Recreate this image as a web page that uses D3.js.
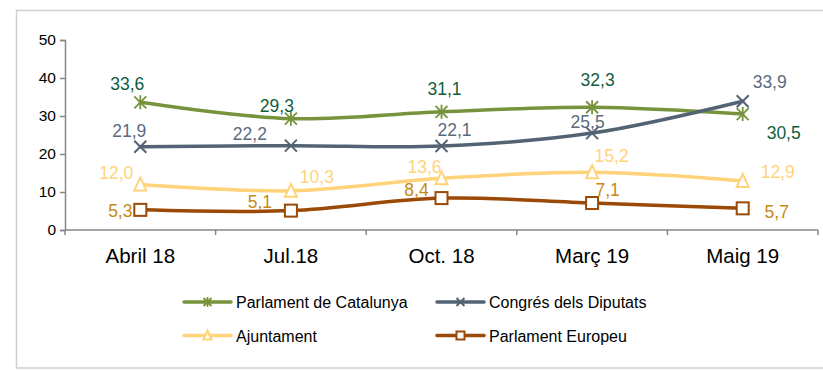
<!DOCTYPE html>
<html>
<head>
<meta charset="utf-8">
<script src="https://cdn.jsdelivr.net/npm/d3@7/dist/d3.min.js"></script>
<style>
  html, body { margin: 0; padding: 0; background: #fff; }
  svg { display: block; font-family: "Liberation Sans", Arial, sans-serif; }
</style>
</head>
<body>
<svg id="chart" width="823" height="370"></svg>
<script>
// Survey periods
const categories = ["Abril 18", "Jul.18", "Oct. 18", "Març 19", "Maig 19"];

// Series values (%)
const parlamentCatalunya = [33.6, 29.3, 31.1, 32.3, 30.5];
const congresDiputats    = [21.9, 22.2, 22.1, 25.5, 33.9];
const ajuntament         = [12.0, 10.3, 13.6, 15.2, 12.9];
const parlamentEuropeu   = [5.3, 5.1, 8.4, 7.1, 5.7];

const seriesNames = ["Parlament de Catalunya", "Congrés dels Diputats", "Ajuntament", "Parlament Europeu"];

const yTicks = [0, 10, 20, 30, 40, 50];

// Styling per series
const styles = [
  { line: "#77933c", label: "#0f5e3c", marker: "asterisk" },
  { line: "#536374", label: "#5a6b7e", marker: "cross" },
  { line: "#ffd37a", label: "#ffd37a", marker: "triangle" },
  { line: "#9a4a06", label: "#c48a12", marker: "square" }
];

// Label placement relative to each point: [dx, dy] of text centre / baseline
const labelOffsets = [
  [[-13, -12], [-14, -7], [3, -17], [5.5, -21.6], [41, 25]],
  [[-11, -10], [-41, -5.6], [13, -10], [-4.5, -5], [27, -13]],
  [[-24, -5], [26, -8], [-17, -5], [19.5, -10.5], [35, -3]],
  [[-20, 7], [-31, -3], [-25, -2], [15.5, -7], [34, 10]]
];

const seriesValues = [parlamentCatalunya, congresDiputats, ajuntament, parlamentEuropeu];

const svg = d3.select("#chart");

// Outer frame
svg.append("rect")
  .attr("x", 16.5).attr("y", 10.5)
  .attr("width", 830).attr("height", 357.5)
  .attr("fill", "none").attr("stroke", "#d0d0d0").attr("stroke-width", 1.5);

const plot = { left: 65, right: 818, top: 40, bottom: 230 };

const x = d3.scaleBand().domain(categories).range([plot.left, plot.right]).padding(0);
const y = d3.scaleLinear().domain([0, 50]).range([plot.bottom, plot.top]);

const axisColor = "#868686";

// Y axis
const yAxis = svg.append("g")
  .attr("transform", `translate(${plot.left},0)`)
  .call(d3.axisLeft(y).tickValues(yTicks).tickSize(5).tickPadding(4).tickFormat(d3.format("d")));
yAxis.select(".domain").attr("stroke", axisColor).attr("stroke-width", 1.5);
yAxis.selectAll(".tick line").attr("stroke", axisColor).attr("stroke-width", 1.5);
yAxis.selectAll(".tick text")
  .attr("fill", "#000").attr("font-size", "15.5px")
  .attr("font-family", "Liberation Sans, Arial, sans-serif");

// X axis: line with boundary ticks between categories
const xAxisG = svg.append("g");
xAxisG.append("line")
  .attr("x1", plot.left).attr("x2", plot.right)
  .attr("y1", plot.bottom).attr("y2", plot.bottom)
  .attr("stroke", axisColor).attr("stroke-width", 1.5);
const boundaries = categories.map(c => x(c)).concat([x(categories[categories.length - 1]) + x.bandwidth()]);
xAxisG.selectAll("line.bound")
  .data(boundaries)
  .join("line")
  .attr("class", "bound")
  .attr("x1", d => d).attr("x2", d => d)
  .attr("y1", plot.bottom).attr("y2", plot.bottom + 5)
  .attr("stroke", axisColor).attr("stroke-width", 1.5);
xAxisG.selectAll("text")
  .data(categories)
  .join("text")
  .attr("x", d => x(d) + x.bandwidth() / 2)
  .attr("y", 263)
  .attr("text-anchor", "middle")
  .attr("font-size", "20.5px")
  .attr("fill", "#000")
  .text(d => d);

const cx = c => x(c) + x.bandwidth() / 2;

const line = d3.line()
  .x((d, i) => cx(categories[i]))
  .y(d => y(d))
  .curve(d3.curveCatmullRom.alpha(0.5));

// Marker drawing
function drawMarker(g, type, color, size) {
  const h = size / 2;
  if (type === "asterisk") {
    g.append("path")
      .attr("d", `M${-h},${-h}L${h},${h}M${-h},${h}L${h},${-h}M0,${-h - 1}L0,${h + 1}`)
      .attr("stroke", color).attr("stroke-width", 1.8).attr("fill", "none");
  } else if (type === "cross") {
    g.append("path")
      .attr("d", `M${-h},${-h}L${h},${h}M${-h},${h}L${h},${-h}`)
      .attr("stroke", color).attr("stroke-width", 2).attr("fill", "none");
  } else if (type === "triangle") {
    g.append("path")
      .attr("d", `M0,${-h - 1}L${h},${h}L${-h},${h}Z`)
      .attr("stroke", color).attr("stroke-width", 2).attr("fill", "#fff");
  } else if (type === "square") {
    g.append("rect")
      .attr("x", -h).attr("y", -h).attr("width", size).attr("height", size)
      .attr("stroke", color).attr("stroke-width", 2).attr("fill", "#fff");
  }
}

// Series lines and markers
seriesValues.forEach((vals, s) => {
  const st = styles[s];
  svg.append("path")
    .datum(vals)
    .attr("d", line)
    .attr("fill", "none")
    .attr("stroke", st.line)
    .attr("stroke-width", 3.5)
    .attr("stroke-linecap", "round");
});

seriesValues.forEach((vals, s) => {
  const st = styles[s];
  vals.forEach((v, i) => {
    const g = svg.append("g").attr("transform", `translate(${cx(categories[i])},${y(v)})`);
    drawMarker(g, st.marker, st.line, st.marker === "square" ? 12 : 12);
  });
});

// Value labels
const fmt = v => d3.format(".1f")(v).replace(".", ",");
seriesValues.forEach((vals, s) => {
  const st = styles[s];
  vals.forEach((v, i) => {
    const [dx, dy] = labelOffsets[s][i];
    svg.append("text")
      .attr("x", cx(categories[i]) + dx)
      .attr("y", y(v) + dy)
      .attr("text-anchor", "middle")
      .attr("font-size", "17.5px")
      .attr("fill", st.label)
      .text(fmt(v));
  });
});

// Legend
const legendPos = [
  { x: 184, y: 302 }, { x: 437, y: 302 },
  { x: 184, y: 335.5 }, { x: 437, y: 335.5 }
];
seriesNames.forEach((name, s) => {
  const st = styles[s];
  const p = legendPos[s];
  const g = svg.append("g").attr("transform", `translate(${p.x},${p.y})`);
  g.append("line")
    .attr("x1", 0).attr("x2", 47).attr("y1", 0).attr("y2", 0)
    .attr("stroke", st.line).attr("stroke-width", 3.5).attr("stroke-linecap", "round");
  const m = g.append("g").attr("transform", "translate(23.5,0)");
  drawMarker(m, st.marker, st.line, 8);
  g.append("text")
    .attr("x", 52).attr("y", 6)
    .attr("font-size", "16px")
    .attr("fill", "#000")
    .text(name);
});
</script>
</body>
</html>
